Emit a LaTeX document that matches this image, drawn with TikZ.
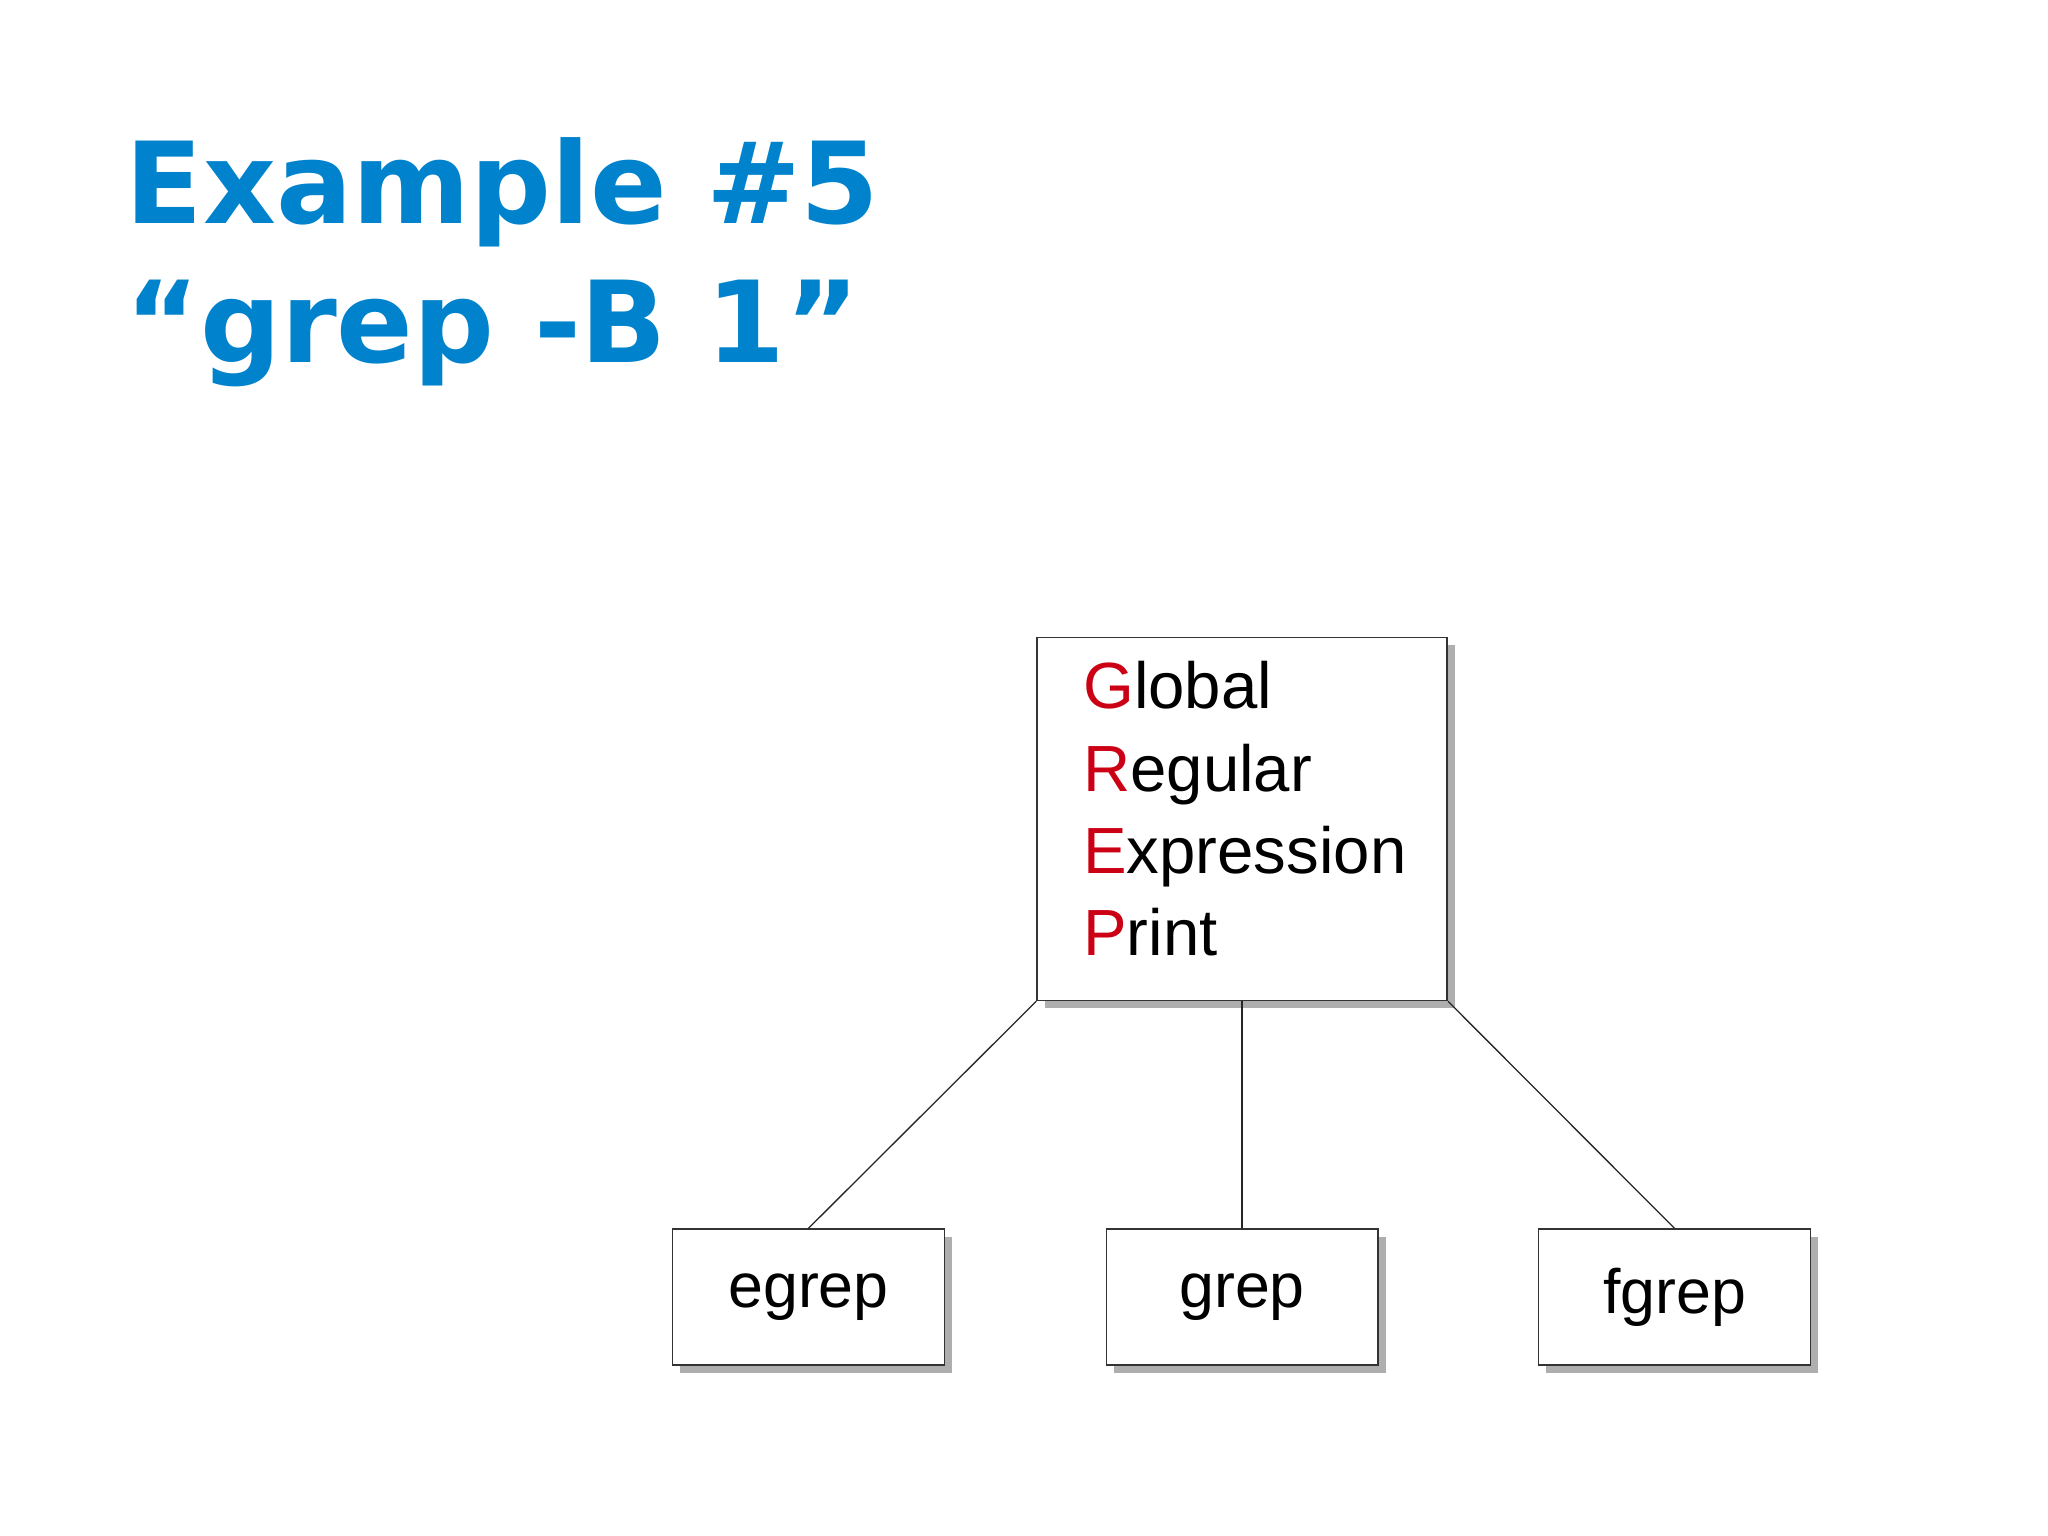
\documentclass[tikz,border=0pt]{standalone}
\usepackage{fontspec}
\setmainfont{Liberation Sans}
\newfontfamily\titlefont{DejaVu Sans}
\usetikzlibrary{shadows}
\definecolor{titleblue}{RGB}{0,130,204}
\definecolor{gred}{RGB}{204,0,20}
\tikzset{
  gbox/.style={draw=black!80, line width=0.6pt, fill=white, inner sep=0pt,
    drop shadow={shadow xshift=3pt, shadow yshift=-3pt, fill=black!45, opacity=0.7}},
  lbl/.style={font=\fontsize{24}{28}\selectfont},
  link/.style={draw=black!85, line width=0.5pt}
}
\begin{document}
\begin{tikzpicture}[x=0.5pt,y=-0.5pt]
\useasboundingbox (0,0) rectangle (1568,1176);
\fill[white] (0,0) rectangle (1568,1176);
\node[anchor=north west, inner sep=0pt, align=left, text=titleblue,
  font=\titlefont\bfseries\fontsize{43.3}{53}\selectfont] (title) at (96,105)
  {Example \#5\\ “grep -B 1”};
\node[gbox, minimum width=157pt, minimum height=139pt] (top) at (951,627) {};
\node[anchor=north west, inner sep=0pt, align=left,
  font=\fontsize{25}{31.5}\selectfont] (acr) at (829,506)
  {\textcolor{gred}{G}lobal\\ \textcolor{gred}{R}egular\\ \textcolor{gred}{E}xpression\\ \textcolor{gred}{P}rint};
\node[gbox, lbl, minimum width=104pt, minimum height=52pt] (eg) at (619,993) {\raisebox{-2pt}{egrep}};
\node[gbox, lbl, minimum width=104pt, minimum height=52pt] (gr) at (951,993) {grep};
\node[gbox, lbl, minimum width=104pt, minimum height=52pt] (fg) at (1282,993) {\raisebox{-2pt}{fgrep}};
\draw[link] (top.south west) -- (eg.north);
\draw[link] (top.south) -- (gr.north);
\draw[link] (top.south east) -- (fg.north);
\end{tikzpicture}
\end{document}
